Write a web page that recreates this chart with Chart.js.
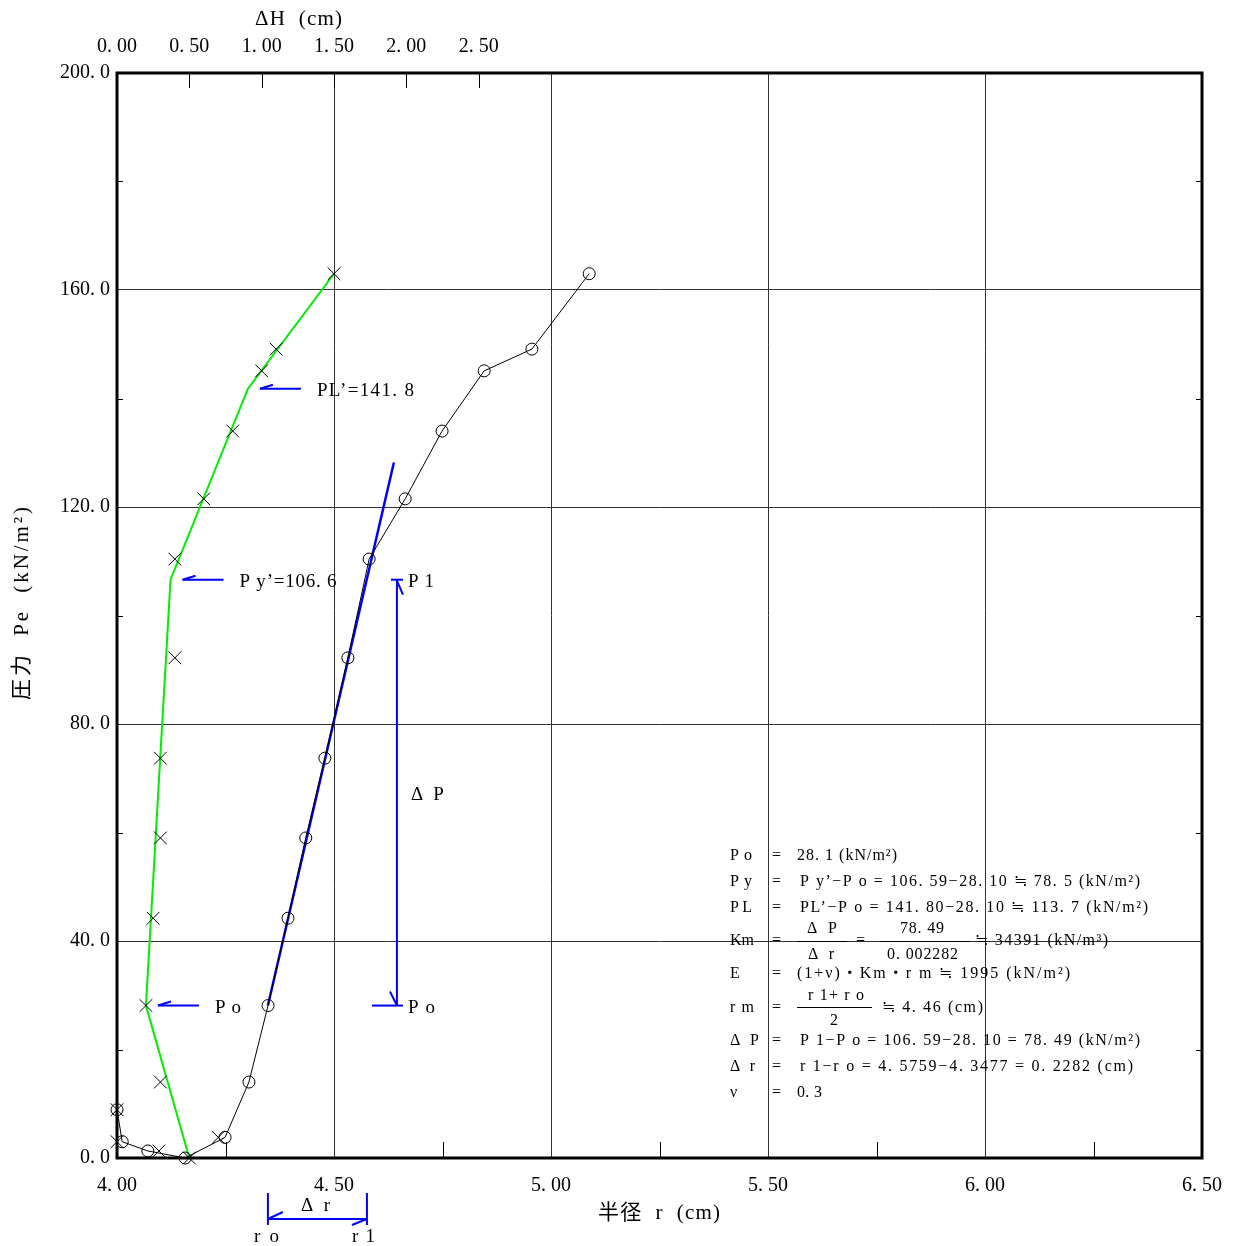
<!DOCTYPE html>
<html>
<head>
<meta charset="utf-8">
<script src="https://cdn.jsdelivr.net/npm/chart.js@4.4.1/dist/chart.umd.min.js"></script>
<style>
  html, body { margin: 0; padding: 0; background: #fff; }
</style>
</head>
<body>
<canvas id="pmt" width="1238" height="1246"></canvas>
<script>
// pressure steps (kN/m2), radius r (cm) and displacement dH (cm)
const pressure = [8.9, 3.0, 1.3, 0.0, 3.8, 14.0, 28.1, 44.2, 59.0, 73.7, 92.2, 110.4, 121.5, 134.0, 145.1, 149.1, 163.0];
const radius   = [4.000, 4.012, 4.071, 4.157, 4.249, 4.304, 4.348, 4.394, 4.435, 4.479, 4.532, 4.581, 4.664, 4.749, 4.846, 4.956, 5.088];
const deltaH   = [0.00, 0.00, 0.29, 0.50, 0.70, 0.30, 0.20, 0.25, 0.30, 0.30, 0.40, 0.40, 0.60, 0.80, 1.00, 1.10, 1.50];

// green broken line (dH vs P)
const greenH = [0.50, 0.20, 0.37, 0.905, 1.50];
const greenP = [0.0, 28.1, 106.6, 141.8, 163.0];

// blue straight part (r vs P)
const blueR = [4.3477, 4.638];
const blueP = [28.1, 128.2];

const rTicks = [4.0, 4.5, 5.0, 5.5, 6.0, 6.5];
const hTicks = [0.0, 0.5, 1.0, 1.5, 2.0, 2.5];
const pTicks = [0, 40, 80, 120, 160, 200];

const Po = 28.1, PyDash = 106.6, PLDash = 141.8, P1 = 106.59;
const ro = 4.3477, r1 = 4.5759, rArrow = 4.645;

const serif = '"Liberation Serif", "Noto Sans CJK JP", serif';
const blue = '#0000ff';

function fmt(v, d) {
  return v.toFixed(d).replace('.', '. ');
}

function zip(xs, ys) {
  return xs.map((x, i) => ({ x: x, y: ys[i] }));
}

function line(ctx, x0, y0, x1, y1) {
  ctx.beginPath();
  ctx.moveTo(x0, y0);
  ctx.lineTo(x1, y1);
  ctx.stroke();
}

// draw text spread between x0 and x1 (the source uses wide fixed-pitch glyphs)
function fitText(ctx, s, x0, x1, y) {
  ctx.textAlign = 'left';
  ctx.letterSpacing = '0px';
  const w = ctx.measureText(s).width;
  const n = [...s].length;
  const sp = n > 1 ? Math.max(0, (x1 - x0 - w) / (n - 1)) : 0;
  ctx.letterSpacing = sp + 'px';
  ctx.fillText(s, x0, y);
  ctx.letterSpacing = '0px';
}

const extras = {
  id: 'extras',
  afterDraw(chart) {
    const ctx = chart.ctx;
    const a = chart.chartArea;
    const x = chart.scales.x, x2 = chart.scales.x2, y = chart.scales.y;
    ctx.save();

    // minor ticks
    ctx.strokeStyle = '#000';
    ctx.lineWidth = 1;
    for (let p = 20; p < 200; p += 40) {
      const py = Math.round(y.getPixelForValue(p)) + 0.5;
      line(ctx, a.left, py, a.left + 6, py);
      line(ctx, a.right - 6, py, a.right, py);
    }
    for (let r = 4.25; r < 6.5; r += 0.5) {
      const px = Math.round(x.getPixelForValue(r)) + 0.5;
      line(ctx, px, a.bottom, px, a.bottom - 16);
    }
    hTicks.forEach(h => {
      const px = Math.round(x2.getPixelForValue(h)) + 0.5;
      line(ctx, px, a.top, px, a.top + 15);
    });

    // frame
    ctx.lineWidth = 3;
    ctx.strokeRect(a.left, a.top, a.right - a.left, a.bottom - a.top);

    // axis titles
    ctx.fillStyle = '#000';
    ctx.textBaseline = 'middle';
    ctx.font = '21px ' + serif;
    fitText(ctx, '\u0394H  (cm)', 255, 342, 19);
    fitText(ctx, '半径  r  (cm)', 598, 720, 1213);
    ctx.save();
    ctx.translate(22, 700);
    ctx.rotate(-Math.PI / 2);
    fitText(ctx, '圧力  Pe  (kN/m\u00b2)', 0, 193, 0);
    ctx.restore();

    // blue annotations
    ctx.font = '19px ' + serif;
    ctx.strokeStyle = blue;
    ctx.lineWidth = 2;
    const leftArrow = (kx, p, label, tw) => {
      const py = y.getPixelForValue(p);
      const tip = kx + 12;
      line(ctx, tip, py, tip + 41, py);
      line(ctx, tip, py, tip + 13, py - 4);
      fitText(ctx, label, tip + 57, tip + 57 + tw, py + 2);
    };
    leftArrow(x2.getPixelForValue(greenH[3]), PLDash, 'PL\u2019=141. 8', 97);
    leftArrow(x2.getPixelForValue(greenH[2]), PyDash, 'P y\u2019=106. 6', 97);
    leftArrow(x2.getPixelForValue(greenH[1]), Po, 'P o', 26);

    const ax = x.getPixelForValue(rArrow);
    const yTop = y.getPixelForValue(PyDash);
    const yBot = y.getPixelForValue(Po);
    line(ctx, ax, yTop, ax, yBot);
    line(ctx, ax - 6, yTop, ax + 6, yTop);
    line(ctx, ax, yTop + 1, ax + 6, yTop + 15);
    line(ctx, ax - 25, yBot, ax + 6, yBot);
    line(ctx, ax - 7, yBot - 14, ax, yBot);
    fitText(ctx, 'P 1', ax + 11, ax + 37, yTop + 2);
    fitText(ctx, 'P o', ax + 11, ax + 38, yBot + 2);
    fitText(ctx, '\u0394 P', ax + 14, ax + 47, y.getPixelForValue((Po + PyDash) / 2) + 2);

    // delta r bracket under the axis
    const bx0 = x.getPixelForValue(ro), bx1 = x.getPixelForValue(r1);
    line(ctx, bx0, 1193, bx0, 1225);
    line(ctx, bx1, 1193, bx1, 1225);
    line(ctx, bx0, 1219, bx1, 1219);
    line(ctx, bx0, 1219, bx0 + 15, 1212);
    line(ctx, bx1, 1219, bx1 - 15, 1225);
    fitText(ctx, '\u0394 r', 301, 330, 1206);
    fitText(ctx, 'r o', bx0 - 14, bx0 + 11, 1237);
    fitText(ctx, 'r 1', bx1 - 15, bx1 + 8, 1237);

    // result block
    ctx.font = '16px ' + serif;
    ctx.strokeStyle = '#000';
    ctx.lineWidth = 1;
    const rows = [
      ['P o', 752, '28. 1 (kN/m\u00b2)', 797, 897, 856],
      ['P y', 752, 'P y\u2019\u2212P o = 106. 59\u221228. 10 \u2252 78. 5 (kN/m\u00b2)', 800, 1140, 882],
      ['PL', 752, 'PL\u2019\u2212P o = 141. 80\u221228. 10 \u2252 113. 7 (kN/m\u00b2)', 800, 1148, 908],
      ['E', 742, '(1+\u03bd)\u30fbKm\u30fbr m \u2252 1995 (kN/m\u00b2)', 797, 1070, 974],
      ['\u0394 P', 759, 'P 1\u2212P o = 106. 59\u221228. 10 = 78. 49 (kN/m\u00b2)', 800, 1140, 1041],
      ['\u0394 r', 755, 'r 1\u2212r o = 4. 5759\u22124. 3477 = 0. 2282 (cm)', 800, 1133, 1067],
      ['\u03bd', 740, '0. 3', 797, 822, 1093]
    ];
    rows.forEach(rw => {
      fitText(ctx, rw[0], 730, rw[1], rw[5]);
      fitText(ctx, '=', 772, 786, rw[5]);
      fitText(ctx, rw[2], rw[3], rw[4], rw[5]);
    });

    // Km fraction
    fitText(ctx, 'Km', 730, 752, 941);
    fitText(ctx, '=', 772, 786, 941);
    fitText(ctx, '\u0394 P', 807, 837, 929);
    fitText(ctx, '\u0394 r', 808, 834, 955);
    line(ctx, 797, 941.5, 847, 941.5);
    fitText(ctx, '=', 856, 870, 941);
    fitText(ctx, '78. 49', 900, 944, 929);
    fitText(ctx, '0. 002282', 887, 958, 955);
    line(ctx, 880, 941.5, 970, 941.5);
    fitText(ctx, '\u2252 34391 (kN/m\u00b3)', 975, 1108, 941);

    // rm fraction
    fitText(ctx, 'r m', 730, 754, 1008);
    fitText(ctx, '=', 772, 786, 1008);
    fitText(ctx, 'r 1+ r o', 808, 864, 996);
    line(ctx, 797, 1007.5, 872, 1007.5);
    fitText(ctx, '2', 830, 838, 1021);
    fitText(ctx, '\u2252 4. 46 (cm)', 882, 983, 1008);

    ctx.restore();
  }
};

new Chart('pmt', {
  type: 'scatter',
  data: {
    datasets: [
      {
        label: 'r',
        data: zip(radius, pressure),
        xAxisID: 'x',
        clip: false,
        showLine: true,
        borderColor: '#000',
        borderWidth: 1,
        pointStyle: 'circle',
        pointRadius: 6,
        pointBorderWidth: 1,
        pointBackgroundColor: 'rgba(0,0,0,0)',
        pointBorderColor: '#000'
      },
      {
        label: 'dH',
        data: zip(deltaH, pressure),
        xAxisID: 'x2',
        clip: false,
        showLine: false,
        pointStyle: 'crossRot',
        pointRadius: 9,
        pointBorderWidth: 1,
        pointBorderColor: '#000'
      },
      {
        label: 'green',
        data: zip(greenH, greenP),
        xAxisID: 'x2',
        showLine: true,
        borderColor: '#00ee00',
        borderWidth: 2,
        pointRadius: 0
      },
      {
        label: 'blue',
        data: zip(blueR, blueP),
        xAxisID: 'x',
        showLine: true,
        borderColor: blue,
        borderWidth: 2.5,
        pointRadius: 0
      }
    ]
  },
  options: {
    responsive: false,
    animation: false,
    layout: { padding: { left: 0, right: 36, top: 0, bottom: 0 } },
    plugins: {
      legend: { display: false },
      tooltip: { enabled: false }
    },
    scales: {
      x: {
        type: 'linear',
        position: 'bottom',
        min: 4.0,
        max: 6.5,
        afterBuildTicks: s => { s.ticks = rTicks.map(v => ({ value: v })); },
        afterFit: s => { s.height = 88; },
        ticks: {
          color: '#000',
          padding: 16,
          font: { family: serif, size: 20 },
          callback: v => fmt(v, 2)
        },
        grid: { color: '#333', lineWidth: 1, drawTicks: false },
        border: { display: false }
      },
      x2: {
        type: 'linear',
        position: 'top',
        min: 0,
        max: 7.5,
        afterBuildTicks: s => { s.ticks = hTicks.map(v => ({ value: v })); },
        afterFit: s => { s.height = 73; },
        ticks: {
          color: '#000',
          padding: 14,
          font: { family: serif, size: 20 },
          callback: v => fmt(v, 2)
        },
        grid: { display: false, drawTicks: false },
        border: { display: false }
      },
      y: {
        type: 'linear',
        position: 'left',
        min: 0,
        max: 200,
        afterBuildTicks: s => { s.ticks = pTicks.map(v => ({ value: v })); },
        afterFit: s => { s.width = 117; },
        ticks: {
          color: '#000',
          padding: 7,
          font: { family: serif, size: 20 },
          callback: v => fmt(v, 1)
        },
        grid: { color: '#333', lineWidth: 1, drawTicks: false },
        border: { display: false }
      }
    }
  },
  plugins: [extras]
});
</script>
</body>
</html>
